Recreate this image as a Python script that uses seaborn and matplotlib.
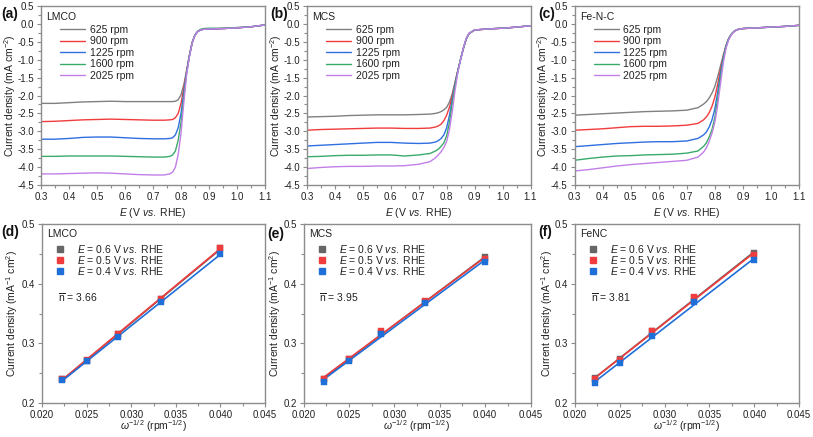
import numpy as np
import pandas as pd
import matplotlib
matplotlib.use("Agg")
import matplotlib.pyplot as plt
import seaborn as sns
from matplotlib.ticker import MultipleLocator, FormatStrFormatter
from matplotlib.lines import Line2D

# ---------------- data ----------------
RPM_LABELS = ["625 rpm", "900 rpm", "1225 rpm", "1600 rpm", "2025 rpm"]
E_GRID = [0.30, 0.35, 0.40, 0.45, 0.50, 0.55, 0.60, 0.65, 0.70, 0.74, 0.76, 0.77, 0.78, 0.79,
          0.80, 0.81, 0.82, 0.83, 0.84, 0.85, 0.86, 0.87, 0.88, 0.90, 0.95, 1.00, 1.05, 1.10]

LMCO_625 = [-2.22, -2.22, -2.20, -2.18, -2.17, -2.16, -2.17, -2.17, -2.17, -2.17, -2.17, -2.17, -2.16, -2.12,
            -1.98, -1.70, -1.30, -0.88, -0.52, -0.31, -0.21, -0.17, -0.15, -0.14, -0.13, -0.11, -0.08, -0.03]
LMCO_900 = [-2.73, -2.72, -2.70, -2.68, -2.67, -2.66, -2.67, -2.68, -2.69, -2.69, -2.68, -2.67, -2.62, -2.50,
            -2.22, -1.80, -1.32, -0.88, -0.52, -0.31, -0.21, -0.17, -0.15, -0.14, -0.13, -0.11, -0.08, -0.03]
LMCO_1225 = [-3.22, -3.22, -3.20, -3.17, -3.16, -3.16, -3.18, -3.20, -3.21, -3.21, -3.20, -3.18, -3.10, -2.90,
             -2.50, -1.92, -1.35, -0.89, -0.52, -0.31, -0.21, -0.17, -0.15, -0.14, -0.13, -0.11, -0.08, -0.03]
LMCO_1600 = [-3.70, -3.70, -3.69, -3.69, -3.69, -3.69, -3.70, -3.71, -3.72, -3.72, -3.70, -3.66, -3.55, -3.25,
             -2.75, -2.05, -1.38, -0.90, -0.52, -0.30, -0.20, -0.15, -0.13, -0.12, -0.12, -0.10, -0.08, -0.03]
LMCO_2025 = [-4.19, -4.19, -4.18, -4.17, -4.16, -4.17, -4.19, -4.21, -4.22, -4.22, -4.19, -4.14, -4.00, -3.65,
             -3.05, -2.20, -1.42, -0.92, -0.53, -0.31, -0.21, -0.17, -0.15, -0.14, -0.13, -0.11, -0.08, -0.03]

MCS_625 = [-2.60, -2.59, -2.58, -2.56, -2.55, -2.54, -2.54, -2.54, -2.53, -2.52, -2.50, -2.48, -2.45, -2.40,
           -2.33, -2.18, -1.95, -1.62, -1.30, -0.98, -0.68, -0.42, -0.27, -0.17, -0.14, -0.12, -0.09, -0.05]
MCS_900 = [-2.97, -2.95, -2.94, -2.93, -2.92, -2.91, -2.91, -2.92, -2.92, -2.91, -2.88, -2.85, -2.80, -2.70,
           -2.55, -2.32, -2.02, -1.65, -1.30, -0.98, -0.68, -0.42, -0.27, -0.17, -0.14, -0.12, -0.09, -0.05]
MCS_1225 = [-3.41, -3.39, -3.37, -3.35, -3.33, -3.31, -3.31, -3.33, -3.34, -3.33, -3.30, -3.26, -3.20, -3.10,
            -2.90, -2.55, -2.12, -1.68, -1.31, -0.98, -0.68, -0.42, -0.27, -0.17, -0.14, -0.12, -0.09, -0.05]
MCS_1600 = [-3.71, -3.70, -3.68, -3.67, -3.67, -3.66, -3.66, -3.69, -3.66, -3.62, -3.55, -3.50, -3.42, -3.32,
            -3.12, -2.75, -2.22, -1.72, -1.32, -0.98, -0.67, -0.41, -0.26, -0.17, -0.14, -0.12, -0.09, -0.05]
MCS_2025 = [-4.04, -4.01, -3.99, -3.98, -3.98, -3.97, -3.97, -3.96, -3.92, -3.85, -3.74, -3.66, -3.57, -3.45,
            -3.28, -2.95, -2.45, -1.85, -1.35, -0.99, -0.66, -0.40, -0.26, -0.17, -0.14, -0.12, -0.09, -0.05]

FENC_625 = [-2.55, -2.53, -2.51, -2.49, -2.47, -2.45, -2.44, -2.43, -2.41, -2.34, -2.24, -2.17, -2.07, -1.93,
            -1.75, -1.48, -1.18, -0.88, -0.60, -0.40, -0.28, -0.20, -0.16, -0.13, -0.11, -0.09, -0.07, -0.04]
FENC_900 = [-2.97, -2.95, -2.93, -2.90, -2.87, -2.86, -2.86, -2.85, -2.83, -2.78, -2.68, -2.60, -2.48, -2.30,
            -2.05, -1.70, -1.30, -0.92, -0.61, -0.40, -0.28, -0.20, -0.16, -0.13, -0.11, -0.09, -0.07, -0.04]
FENC_1225 = [-3.43, -3.40, -3.37, -3.34, -3.32, -3.30, -3.29, -3.29, -3.27, -3.20, -3.10, -3.02, -2.88, -2.68,
             -2.38, -1.92, -1.40, -0.95, -0.62, -0.40, -0.28, -0.20, -0.16, -0.13, -0.11, -0.09, -0.07, -0.04]
FENC_1600 = [-3.81, -3.76, -3.72, -3.69, -3.68, -3.66, -3.65, -3.64, -3.61, -3.55, -3.42, -3.32, -3.16, -2.95,
             -2.62, -2.10, -1.52, -1.00, -0.64, -0.41, -0.28, -0.20, -0.16, -0.13, -0.11, -0.09, -0.07, -0.04]
FENC_2025 = [-4.11, -4.07, -4.02, -3.97, -3.93, -3.90, -3.87, -3.84, -3.81, -3.72, -3.58, -3.46, -3.28, -3.05,
             -2.75, -2.28, -1.68, -1.10, -0.68, -0.43, -0.29, -0.21, -0.16, -0.13, -0.11, -0.09, -0.07, -0.04]

KL_X = [0.02222, 0.02500, 0.02857, 0.03333, 0.04000]
KL_LABELS = ["0.6", "0.5", "0.4"]
LMCO_KL_06 = [0.240, 0.271, 0.315, 0.374, 0.459]
LMCO_KL_05 = [0.240, 0.272, 0.316, 0.375, 0.460]
LMCO_KL_04 = [0.238, 0.270, 0.310, 0.369, 0.450]
MCS_KL_06 = [0.240, 0.273, 0.318, 0.369, 0.444]
MCS_KL_05 = [0.240, 0.273, 0.320, 0.371, 0.441]
MCS_KL_04 = [0.235, 0.271, 0.316, 0.368, 0.436]
FENC_KL_06 = [0.242, 0.273, 0.320, 0.376, 0.452]
FENC_KL_05 = [0.240, 0.272, 0.321, 0.378, 0.448]
FENC_KL_04 = [0.233, 0.267, 0.313, 0.369, 0.439]
N_VALUES = ["3.66", "3.95", "3.81"]

# ---------------- style ----------------
sns.set_theme(style="ticks")
plt.rcParams["font.family"] = ["Liberation Sans", "DejaVu Sans"]
plt.rcParams["mathtext.fontset"] = "custom"
plt.rcParams["mathtext.rm"] = "Liberation Sans"
plt.rcParams["mathtext.it"] = "Liberation Sans:italic"
plt.rcParams["mathtext.bf"] = "Liberation Sans:bold"
plt.rcParams["axes.unicode_minus"] = False

LSV_COLORS = ["#808080", "#f03c3c", "#2f6fe0", "#3aaa6a", "#c27fe8"]
KL_COLORS = ["#666666", "#f03c3c", "#1f6fd8"]
SPINE = "#8c8c8c"
TXT = "#222222"

W, H = 813, 437
fig = plt.figure(figsize=(W / 100, H / 100), dpi=100)


def px_axes(l, t, r, b):
    return fig.add_axes([l / W, 1 - b / H, (r - l) / W, (b - t) / H])


def style(ax):
    for s in ax.spines.values():
        s.set_color(SPINE)
        s.set_linewidth(1.0)
    ax.tick_params(which="both", direction="out", colors=SPINE, labelcolor=TXT,
                   labelsize=7, width=0.8, pad=2, top=False, right=False)
    ax.tick_params(which="major", length=3)
    ax.tick_params(which="minor", length=2)


top_axes = [px_axes(41, 6, 265, 185), px_axes(307, 6, 530.5, 185), px_axes(574.5, 6, 799, 185)]
bot_axes = [px_axes(42, 224, 265, 403), px_axes(303.5, 224, 530.5, 403), px_axes(575, 224, 799, 403)]
top_ylab_x = [-0.138, -0.138, -0.138]
bot_ylab_x = [-0.132, -0.124, -0.124]

lsv_sets = [("LMCO", [LMCO_625, LMCO_900, LMCO_1225, LMCO_1600, LMCO_2025]),
            ("MCS", [MCS_625, MCS_900, MCS_1225, MCS_1600, MCS_2025]),
            ("Fe-N-C", [FENC_625, FENC_900, FENC_1225, FENC_1600, FENC_2025])]

for ax, (name, curves), lx in zip(top_axes, lsv_sets, top_ylab_x):
    rows = []
    for lab, ys in zip(RPM_LABELS, curves):
        for e, j in zip(E_GRID, ys):
            rows.append((lab, e, j))
    df = pd.DataFrame(rows, columns=["rpm", "E", "j"])
    sns.lineplot(data=df, x="E", y="j", hue="rpm", hue_order=RPM_LABELS,
                 palette=LSV_COLORS, estimator=None, sort=False, lw=1.0, ax=ax, legend=False)
    style(ax)
    ax.set_xlim(0.3, 1.1)
    ax.set_ylim(-4.5, 0.5)
    ax.xaxis.set_major_locator(MultipleLocator(0.1))
    ax.xaxis.set_minor_locator(MultipleLocator(0.05))
    ax.yaxis.set_major_locator(MultipleLocator(0.5))
    ax.yaxis.set_minor_locator(MultipleLocator(0.25))
    ax.xaxis.set_major_formatter(FormatStrFormatter("%.1f"))
    ax.yaxis.set_major_formatter(FormatStrFormatter("%.1f"))
    ax.set_xlabel(r"$\it{E}$ (V $\it{vs.}$ RHE)", fontsize=7.5, color=TXT, labelpad=3)
    ax.set_ylabel(r"Current density (mA cm$^{-2}$)", fontsize=7.5, color=TXT, va="center")
    ax.yaxis.set_label_coords(lx, 0.5)
    ax.text(0.025, 0.94, name, transform=ax.transAxes, fontsize=7.5, color=TXT, va="center")
    handles = [Line2D([], [], color=c, lw=1.0) for c in LSV_COLORS]
    ax.legend(handles, RPM_LABELS, loc="upper left", bbox_to_anchor=(0.085, 0.895),
              frameon=False, fontsize=7.5, handlelength=2.4, handletextpad=0.45,
              labelspacing=0.14, borderpad=0, borderaxespad=0, labelcolor=TXT)

kl_sets = [("LMCO", [LMCO_KL_06, LMCO_KL_05, LMCO_KL_04]),
           ("MCS", [MCS_KL_06, MCS_KL_05, MCS_KL_04]),
           ("FeNC", [FENC_KL_06, FENC_KL_05, FENC_KL_04])]

for ax, (name, series), nval, lx in zip(bot_axes, kl_sets, N_VALUES, bot_ylab_x):
    for ys, c in zip(series, KL_COLORS):
        d = pd.DataFrame({"x": KL_X, "y": ys})
        sns.regplot(data=d, x="x", y="y", ci=None, scatter=False, truncate=True,
                    line_kws=dict(color=c, lw=1.2), ax=ax)
        sns.scatterplot(data=d, x="x", y="y", marker="s", s=16, color=c,
                        edgecolor=c, linewidth=0.3, ax=ax, zorder=3)
    style(ax)
    ax.set_xlim(0.020, 0.045)
    ax.set_ylim(0.2, 0.5)
    ax.xaxis.set_major_locator(MultipleLocator(0.005))
    ax.xaxis.set_minor_locator(MultipleLocator(0.0025))
    ax.yaxis.set_major_locator(MultipleLocator(0.1))
    ax.yaxis.set_minor_locator(MultipleLocator(0.05))
    ax.xaxis.set_major_formatter(FormatStrFormatter("%.3f"))
    ax.yaxis.set_major_formatter(FormatStrFormatter("%.1f"))
    ax.set_xlabel(r"$\omega^{-1/2}$ (rpm$^{-1/2}$)", fontsize=7.5, color=TXT, labelpad=-1)
    ax.set_ylabel(r"Current density (mA$^{-1}$ cm$^{2}$)", fontsize=7.5, color=TXT, va="center")
    ax.yaxis.set_label_coords(lx, 0.5)
    ax.text(0.025, 0.945, name, transform=ax.transAxes, fontsize=7.5, color=TXT, va="center")
    handles = [Line2D([], [], color=c, marker="s", ls="", markersize=4) for c in KL_COLORS]
    labels = [r"$\it{E}$ = %s V $\it{vs.}$ RHE" % v for v in KL_LABELS]
    ax.legend(handles, labels, loc="upper left", bbox_to_anchor=(0.05, 0.895),
              frameon=False, fontsize=7.5, handlelength=1.4, handletextpad=0.9,
              labelspacing=-0.08, borderpad=0, borderaxespad=0, labelcolor=TXT)
    ax.text(0.07, 0.59, r"$\overline{\mathrm{n}}$ = " + nval, transform=ax.transAxes,
            fontsize=7.5, color=TXT, va="center")

for lab, x, y in [("(a)", 1, 14), ("(b)", 270, 14), ("(c)", 538, 14),
                  ("(d)", 1, 232), ("(e)", 267, 234), ("(f)", 538, 232)]:
    fig.text(x / W, 1 - y / H, lab, fontsize=10, fontweight="bold", color="#111111", va="center")

fig.savefig("out.png", dpi=100)
